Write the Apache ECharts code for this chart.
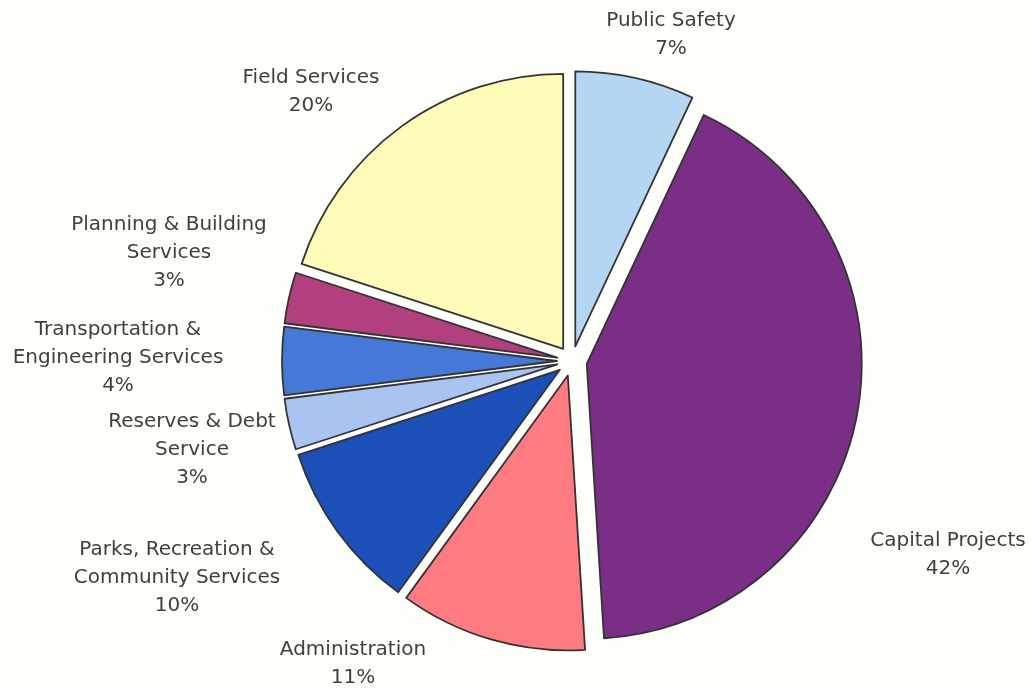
<!DOCTYPE html>
<html>
<head>
<meta charset="utf-8">
<script src="https://cdn.jsdelivr.net/npm/echarts@6/dist/echarts.min.js"></script>
<style>
  html, body { margin: 0; padding: 0; background: #fefefb; }
  #chart { width: 1031px; height: 688px; }
</style>
</head>
<body>
<div id="chart"></div>
<script>
// Budget share by department, clockwise from 12 o'clock
const categories = [
  'Public Safety',
  'Capital Projects',
  'Administration',
  'Parks, Recreation &\nCommunity Services',
  'Reserves & Debt\nService',
  'Transportation &\nEngineering Services',
  'Planning & Building\nServices',
  'Field Services'
];
const shares = [7, 42, 11, 10, 3, 4, 3, 20];
const sliceColors = ['#b4d6f3', '#7a2e86', '#ff7b82', '#1c50b8', '#a9c4f1', '#4678d8', '#b2407f', '#fffbb9'];

// Center of each caption block
const labelSpots = [
  [671, 35], [948, 555], [353, 664], [177, 578],
  [192, 450], [118, 358], [169, 253], [311, 92]
];

const captions = categories.map((name, i) => ({
  type: 'text',
  silent: true,
  style: {
    text: name + '\n' + shares[i] + '%',
    x: labelSpots[i][0],
    y: labelSpots[i][1],
    align: 'center',
    verticalAlign: 'middle',
    font: '20px "DejaVu Sans"',
    lineHeight: 28,
    fill: '#404040'
  }
}));

const chart = echarts.init(document.getElementById('chart'));
chart.setOption({
  backgroundColor: '#fefefb',
  animation: false,
  graphic: captions,
  series: [{
    type: 'pie',
    center: [572, 361],
    radius: 275,
    startAngle: 90,
    clockwise: true,
    selectedMode: 'multiple',
    selectedOffset: 15,
    itemStyle: { borderColor: '#333', borderWidth: 1.8 },
    select: { itemStyle: { borderColor: '#333', borderWidth: 1.8 } },
    emphasis: { disabled: true },
    label: { show: false },
    labelLine: { show: false },
    data: categories.map((name, i) => ({
      name: name,
      value: shares[i],
      selected: true,
      itemStyle: { color: sliceColors[i] }
    }))
  }]
});
</script>
</body>
</html>
